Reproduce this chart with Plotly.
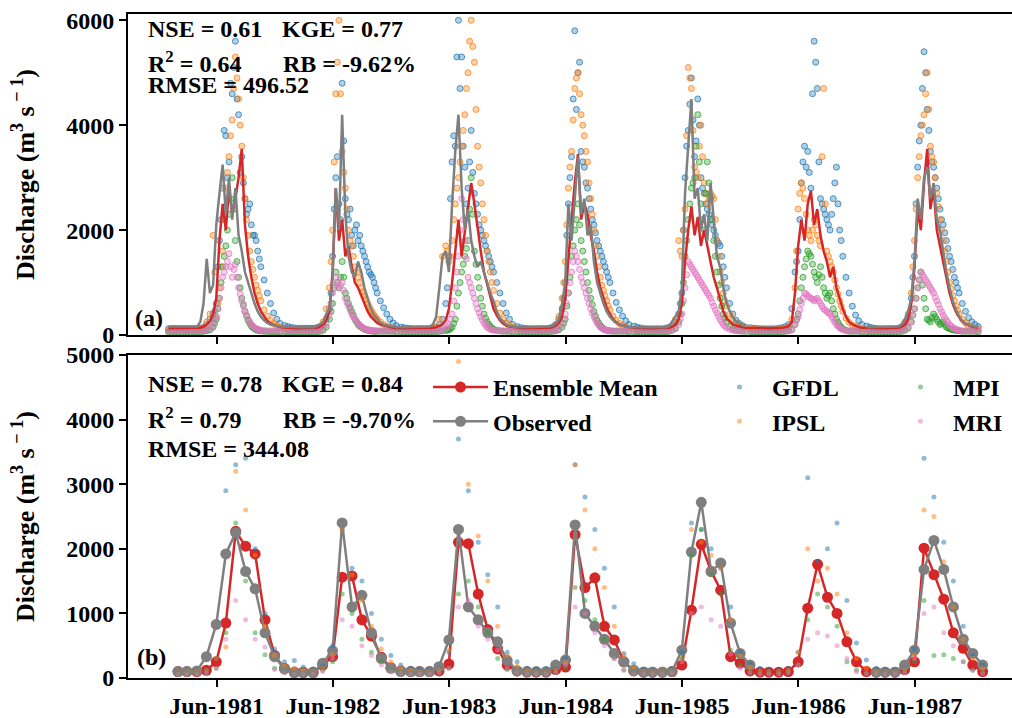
import pandas as pd
import plotly.graph_objects as go

years = [1981, 1982, 1983, 1984, 1985, 1986, 1987]
# daily panel sampled every 10 days (36 samples per year) + mid-step samples in the wet season
daily_dates = [pd.Timestamp(y, 1, 1) + pd.Timedelta(days=10 * k) for y in years for k in range(36)]
mid_dates = [pd.Timestamp(y, 1, 1) + pd.Timedelta(days=5 + 10 * k) for y in years for k in range(14, 29)]
monthly_dates = [pd.Timestamp(y, m, 1) + pd.offsets.MonthEnd(0) for y in years for m in range(1, 13)]

N = None
obs_daily = [
    160,160,155,155,150,150,150,150,155, 160,250,600,1450,800,950,2100,2700,3250, 2300,3000,2200,2800,1900,1600,1200,1000,800, 600,450,350,280,230,200,180,170,160,
    155,150,150,150,150,150,150,150,150, 150,170,200,250,400,500,1100,2800,2000, 4200,2300,1500,1200,1100,1400,1200,900,700, 500,380,300,240,200,180,170,160,150,
    150,150,150,150,150,150,150,150,150, 160,200,350,900,1500,1600,1200,2500,3500, 4200,2800,2000,2400,1800,1500,1300,1400,1200, 1000,800,650,450,320,250,200,170,160,
    150,150,150,150,150,150,150,150,150, 150,160,180,220,300,600,1000,2500,1800, 2600,3400,2300,2600,1900,2100,1400,1000,800, 600,450,350,280,230,200,180,160,150,
    150,150,150,150,150,150,150,150,150, 150,150,170,250,350,450,900,2700,3600, 4500,2600,2800,2000,2300,1800,2900,2200,1500, 1300,900,600,450,330,260,220,190,170,
    N,N,N,N,N,N,N,N,N, N,N,N,N,N,N,N,N,N, N,N,N,N,N,N,N,N,N, N,N,N,N,N,N,N,N,N,
    150,150,150,150,150,150,150,150,150, 150,160,200,300,450,700,1400,2600,2200, 3000,3200,2600,2900,2200,2000,1600,1200,900, 650,480,350,270,220,190,170,160,150,
]
ens_daily = [
    130,130,130,130,130,130,130,130,130, 130,140,160,200,260,400,700,1800,2500, 2000,2800,2300,2600,3000,3550,2100,1500,1100, 800,600,450,350,270,220,190,170,150,
    140,135,130,130,130,130,130,130,130, 130,140,160,200,280,450,1200,2800,1800, 2200,1500,1700,1300,1000,900,750,600,450, 350,280,230,200,180,160,150,140,130,
    130,130,130,130,130,130,130,130,130, 130,140,150,170,200,280,500,1000,1600, 2200,1500,2000,2400,2900,2500,2000,1600,1200, 950,700,500,380,280,220,180,160,150,
    140,135,130,130,130,130,130,130,130, 130,140,150,180,230,350,700,1500,2200, 2900,3450,2200,2500,2300,1900,1600,1200,900, 700,520,400,300,240,200,180,160,150,
    140,135,130,130,130,130,130,130,130, 130,130,140,160,200,300,600,1400,2000, 2450,1900,2250,1700,2000,1700,1400,1100,900, 650,450,320,250,200,180,160,150,140,
    135,130,130,130,130,130,130,130,130, 130,140,150,170,250,800,1700,2200,1800, 2500,2750,2100,2400,1900,1600,1400,1100,1300, 900,700,500,350,250,200,170,150,140,
    135,130,130,130,130,130,130,130,130, 130,140,160,200,300,600,1300,2400,2000, 2900,3550,2400,2800,2000,1700,1400,1100,800, 600,450,340,260,210,180,160,150,140,
]
gfdl_daily = [
    120,120,120,120,120,120,120,120,120, 120,130,150,200,300,400,600,1800,2800, 3800,3300,4600,5600,4200,3400,2600,2400,2100, 1900,1600,1300,1050,800,600,420,300,220,
    180,160,145,135,130,130,130,130,130, 130,140,160,200,300,500,1500,3000,2500, 4800,2600,2200,1900,2000,1800,1700,1500,1300, 1150,1000,800,650,520,400,300,230,180,
    150,140,130,125,120,120,120,120,120, 120,130,150,200,300,600,1500,3300,3600, 6000,5300,3200,2800,3900,2700,2300,2000,1800, 1600,1400,1200,1000,800,600,420,300,200,
    160,140,130,125,120,120,120,120,120, 120,130,150,200,300,500,1000,2500,3400, 5800,5000,3500,3200,2800,2400,2100,1800,1600, 1400,1200,1000,800,620,480,360,270,200,
    170,150,135,125,120,120,120,120,120, 120,130,150,180,250,400,800,3000,3900, 4900,3400,4500,3000,2700,2400,2200,2000,1800, 1700,1300,900,600,400,280,220,180,150,
    140,130,125,120,120,120,120,120,120, 130,140,160,200,500,1200,1600,2900,3600, 3500,2800,5600,4700,2600,2400,2200,2000,2600, 3200,2000,1500,1100,800,550,380,270,200,
    170,150,135,125,120,120,120,120,120, 120,130,160,220,350,700,1500,3200,4000, 5400,4300,3500,3200,2800,2400,2100,1800,1500, 1250,1000,800,600,450,330,250,200,160,
]
ipsl_daily = [
    100,100,100,100,100,100,100,100,100, 100,110,140,250,400,1900,350,900,1600, 2800,3400,4100,5300,4500,3600,2600,1900,1400, 1100,850,650,480,360,280,220,180,150,
    130,115,105,100,100,100,100,100,100, 110,120,150,250,500,900,2000,4600,6000, 3500,2800,2000,1700,1300,1100,900,750,600, 480,380,300,250,200,170,150,130,120,
    110,105,100,100,100,100,100,100,100, 100,110,150,300,1500,1700,1400,1800,2500, 3000,3600,4200,5000,6000,5200,3600,2900,2200, 1600,1200,850,600,420,300,230,180,150,
    130,115,105,100,100,100,100,100,100, 100,110,140,200,350,700,1400,2800,3500, 4700,5000,4200,3800,3300,2600,2000,1500,1100, 850,650,480,360,280,220,180,150,130,
    115,105,100,100,100,100,100,100,100, 100,110,130,180,300,1800,1500,2400,5100, 4700,3200,3000,4000,2900,2500,2700,2600,1800, 1200,800,550,400,300,230,190,160,140,
    120,110,100,100,100,100,100,100,100, 100,110,130,160,300,900,2400,2900,2600, 2000,1800,2200,1900,1700,4700,1600,1400,1200, 900,650,450,320,240,190,160,140,120,
    110,105,100,100,100,100,100,100,100, 100,110,150,250,400,800,1800,3000,3800, 4200,5000,3600,3300,2700,2200,1800,1400,1000, 750,550,400,300,230,180,150,130,120,
]
mpi_daily = [
    60,60,60,60,60,60,60,60,60, 60,60,70,80,100,150,300,700,1300, 1700,2300,3000,1800,1100,700,450,280,170, 120,90,80,70,65,60,60,60,60,
    60,60,60,60,60,60,60,60,60, 60,60,70,90,150,300,600,1200,900, 1400,800,600,450,300,200,150,110,90, 80,70,70,70,70,70,70,70,60,
    60,60,60,60,60,60,60,60,60, 60,60,60,70,80,90,100,150,300, 800,1200,1500,1800,3000,1600,1100,700,400, 250,160,110,90,80,70,70,70,60,
    60,60,60,60,60,60,60,60,60, 60,60,70,80,100,150,300,800,1500, 2000,2500,1800,1400,1000,700,450,280,180, 120,90,80,70,70,70,70,70,60,
    60,60,60,60,60,60,60,60,60, 60,60,70,90,130,250,600,1500,2200, 2800,3000,4200,2500,2000,3300,2600,1800,1200, 700,400,250,160,110,90,80,70,70,
    60,60,60,60,60,60,60,60,60, 60,60,70,80,100,200,400,900,1300, 1600,1500,1200,1000,1300,900,700,800,500, 300,180,120,90,70,70,70,70,60,
    60,60,60,60,60,60,60,60,60, 60,60,70,90,130,250,500,900,1200, 700,300,250,400,300,200,250,150,120, 100,90,80,70,70,70,70,70,60,
]
mri_daily = [
    80,80,80,80,80,80,80,80,80, 80,80,90,100,120,180,350,700,1100, 1300,1550,1100,1350,900,650,450,300,200, 140,110,90,85,80,80,80,80,80,
    80,80,80,80,80,80,80,80,80, 80,80,90,110,200,400,800,1100,900, 1000,700,550,400,300,220,160,120,100, 90,80,80,80,80,80,80,80,80,
    80,80,80,80,80,80,80,80,80, 80,80,80,90,100,120,200,400,900, 1500,2600,1800,1100,900,700,500,350,230, 150,110,90,80,80,80,80,80,80,
    80,80,80,80,80,80,80,80,80, 80,80,90,100,120,200,400,800,1200, 1600,1400,1100,900,700,500,350,230,150, 110,90,80,80,80,80,80,80,80,
    80,80,80,80,80,80,80,80,80, 80,80,90,100,120,200,400,900,1400, 1300,1200,1100,1000,900,800,700,550,420, 300,200,140,110,90,80,80,80,80,
    80,80,80,80,80,80,80,80,80, 80,80,80,90,100,200,350,600,800, 750,700,650,700,600,500,450,400,300, 200,140,100,80,80,80,80,80,80,
    80,80,80,80,80,80,80,80,80, 80,80,90,110,150,250,500,900,1200, 1100,1000,900,800,650,500,380,280,200, 140,110,90,80,80,80,80,80,80,
]

# mid-step wet-season model samples (15 per year)
gfdl_mid = [
    450,1300,2200,3900,3000,4800,5100,4500,3100,2900,2300,2500,1900,1800,1450,
    800,2400,3400,2200,3700,2300,2400,1700,2100,1900,1600,1400,1200,1100,900,
    900,2600,3800,5300,4700,3600,2500,3300,3100,2500,2100,1900,1700,1500,1300,
    700,1900,3000,4500,4300,5200,3300,2900,2600,2200,1950,1700,1500,1300,1100,
    600,2000,3600,4400,4100,3700,4000,2800,2500,2300,2100,1900,1750,1500,1100,
    1400,2200,3300,3200,3100,4600,5200,3300,2500,2300,2100,2300,2900,2500,1800,
    1100,2500,3700,4700,5000,3900,3300,3000,2600,2200,1950,1650,1400,1100,900,
]
ipsl_mid = [
    1200,600,1300,2200,3100,3800,4700,4900,4000,3000,2200,1600,1250,950,750,
    1400,3300,5200,4600,3100,2400,1800,1500,1200,1000,820,680,540,430,340,
    1600,1500,2200,2800,3300,3900,4700,5600,5500,4300,3200,2500,1900,1400,1000,
    1000,2100,3200,4100,4900,4600,4000,3500,2900,2300,1700,1300,950,750,560,
    1600,2000,3800,4900,3900,3100,3600,3400,2700,2600,2650,2200,1500,1000,650,
    1600,2700,2800,2300,1900,2000,2100,1800,3400,2500,1500,1300,1050,780,550,
    1300,2400,3400,4000,4600,4300,3400,3000,2450,2000,1600,1200,880,650,470,
]
mpi_mid = [
    220,500,1000,1500,2000,2600,2400,1400,900,580,360,220,140,100,85,
    450,900,1000,1100,1100,700,520,380,250,170,130,100,85,75,70,
    95,120,220,550,1000,1350,1650,2400,2300,1350,900,550,320,200,130,
    220,550,1100,1700,2200,2100,1600,1200,850,580,360,230,150,100,85,
    400,1000,1800,2500,2900,3600,3300,2200,2700,2900,2200,1500,950,550,320,
    300,650,1100,1450,1550,1350,1100,1150,1100,800,750,650,400,240,150,
    380,700,1050,950,500,280,330,350,250,220,200,135,110,95,85,
]
mri_mid = [
    260,500,900,1200,1400,1300,1250,1100,780,550,380,250,170,125,100,
    600,950,1000,950,850,620,480,350,260,190,140,110,95,85,80,
    160,300,650,1200,2000,2200,1450,1000,800,600,420,290,190,130,100,
    300,600,1000,1400,1500,1250,1000,800,600,420,290,190,130,100,85,
    300,650,1150,1350,1250,1150,1050,950,850,750,620,480,360,250,170,
    280,480,700,780,720,680,680,650,550,470,420,350,250,170,120,
    380,700,1050,1150,1050,950,850,720,580,440,330,240,170,125,100,
]

# monthly panel (Jan..Dec for each year)
obs_monthly = [
    100,100,110,330,830,1920,2250,1650,1380,700,330,140,
    80,80,80,230,420,2400,1100,1280,700,300,150,100,
    100,100,100,175,590,2300,1100,900,700,560,270,110,
    100,100,100,200,280,2370,1000,800,600,380,250,120,
    90,90,90,100,430,1950,2720,1650,1780,850,380,200,
    N,N,N,N,N,N,N,N,N,N,N,N,
    90,90,90,200,430,1680,2130,1680,1100,600,380,200,
]
ens_monthly = [
    100,100,100,120,250,850,2270,2040,1920,900,350,150,
    90,90,90,200,330,1560,1580,900,650,320,160,110,
    100,100,100,110,215,2100,2080,1300,750,450,200,110,
    90,90,90,130,170,2220,1400,1550,800,590,250,110,
    90,90,90,100,200,1050,2070,1650,1360,330,230,110,
    90,90,90,100,250,1080,1760,1250,1000,560,250,100,
    90,90,90,130,250,2010,1600,1220,700,460,200,100,
]
gfdl_monthly = [
    110,110,110,130,300,2900,3300,3400,2000,1000,450,250,
    270,170,140,180,500,2300,1700,1500,1000,600,350,200,
    150,130,120,150,400,3700,2900,2100,1600,1100,400,250,
    150,130,120,140,300,3300,2800,2300,1700,1100,380,220,
    140,120,110,130,400,2400,2300,2000,1700,1100,400,220,
    150,130,120,150,400,3100,1800,2000,2400,1200,540,280,
    150,130,120,140,450,3400,2800,2100,1500,800,350,200,
]
ipsl_monthly = [
    100,100,100,120,300,480,3200,2600,1900,800,350,200,
    150,120,110,150,360,2300,1600,1200,800,450,250,150,
    120,100,100,130,430,4900,3000,2200,1500,800,350,180,
    120,100,100,120,250,3300,2600,2000,1400,800,350,170,
    110,100,100,110,300,2300,2100,1900,1700,900,350,170,
    110,100,100,120,400,2000,1500,1700,1300,700,300,150,
    110,100,100,130,350,2600,2500,1800,1100,600,300,150,
]
mpi_monthly = [
    70,70,70,80,150,700,2400,1500,700,360,150,90,
    70,70,70,120,250,1300,1000,600,400,250,120,80,
    70,70,70,80,150,1300,1500,1100,700,300,130,80,
    70,70,70,80,150,1400,1200,900,600,300,120,80,
    70,70,70,90,300,1900,2300,1600,1300,430,200,90,
    70,70,70,80,200,900,1300,1100,800,250,120,70,
    70,70,70,90,250,1200,350,360,300,250,120,80,
]
mri_monthly = [
    60,60,60,80,150,600,1200,900,600,480,130,80,
    60,60,60,100,300,900,800,500,350,200,100,70,
    60,60,60,80,150,1100,1200,800,600,430,150,80,
    60,60,60,80,200,1100,1000,700,500,300,130,70,
    60,60,60,80,250,1000,1100,900,800,370,150,80,
    60,60,60,80,200,600,700,650,500,300,100,70,
    60,60,60,80,300,1000,1100,700,500,250,120,70,
]

tick_dates = [pd.Timestamp(y, 6, 1) for y in years]
tick_labels = ["Jun-%d" % y for y in years]

stats_a = ["NSE = 0.61", "KGE = 0.77", "R<sup>2</sup> = 0.64", "RB = -9.62%", "RMSE = 496.52"]
stats_b = ["NSE = 0.78", "KGE = 0.84", "R<sup>2</sup> = 0.79", "RB = -9.70%", "RMSE = 344.08"]

FONT = "Liberation Serif"
C_GFDL, C_IPSL, C_MPI, C_MRI = "31,119,180", "255,127,14", "44,160,44", "227,119,194"
RED, GRAY = "#d62728", "#7f7f7f"

fig = go.Figure()

# ---- top panel: daily ----
for vals, mids, c in [(gfdl_daily, gfdl_mid, C_GFDL), (ipsl_daily, ipsl_mid, C_IPSL),
                      (mpi_daily, mpi_mid, C_MPI), (mri_daily, mri_mid, C_MRI)]:
    fig.add_trace(go.Scatter(x=daily_dates + mid_dates, y=vals + mids, mode="markers", xaxis="x", yaxis="y",
                             showlegend=False,
                             marker=dict(size=6, color="rgba(%s,0.35)" % c,
                                         line=dict(width=1, color="rgba(%s,0.75)" % c))))
fig.add_trace(go.Scatter(x=daily_dates, y=ens_daily, mode="lines", xaxis="x", yaxis="y", showlegend=False,
                         line=dict(color=RED, width=2.5)))
fig.add_trace(go.Scatter(x=daily_dates, y=obs_daily, mode="lines", xaxis="x", yaxis="y", showlegend=False,
                         line=dict(color=GRAY, width=2.5)))

# ---- bottom panel: monthly ----
fig.add_trace(go.Scatter(x=monthly_dates, y=ens_monthly, mode="lines+markers", name="Ensemble Mean",
                         xaxis="x2", yaxis="y2", legend="legend",
                         line=dict(color=RED, width=2.5), marker=dict(size=11, color=RED)))
fig.add_trace(go.Scatter(x=monthly_dates, y=obs_monthly, mode="lines+markers", name="Observed",
                         xaxis="x2", yaxis="y2", legend="legend",
                         line=dict(color=GRAY, width=2.5), marker=dict(size=11, color=GRAY)))
for vals, c, nm, lg in [(gfdl_monthly, C_GFDL, "GFDL", "legend2"), (ipsl_monthly, C_IPSL, "IPSL", "legend2"),
                        (mpi_monthly, C_MPI, "MPI", "legend3"), (mri_monthly, C_MRI, "MRI", "legend3")]:
    fig.add_trace(go.Scatter(x=monthly_dates, y=vals, mode="markers", name=nm, xaxis="x2", yaxis="y2",
                             legend=lg, marker=dict(size=5, color="rgba(%s,0.5)" % c)))

tickfont = dict(family=FONT, size=24, color="black", weight="bold")
xrange = ["1980-08-27", "1988-04-01"]
common_x = dict(range=xrange, type="date", tickvals=tick_dates, ticktext=tick_labels, ticks="outside",
                ticklen=7, tickwidth=2, tickcolor="black", showline=True, linewidth=2, linecolor="black",
                mirror=True, showgrid=False, zeroline=False, tickfont=tickfont, automargin=False)
common_y = dict(ticks="outside", ticklen=7, tickwidth=2, tickcolor="black", showline=True, linewidth=2,
                linecolor="black", showgrid=False, zeroline=False, tickfont=tickfont, automargin=False,
                title=dict(text="Discharge (m<sup>3</sup> s<sup> \u2212 1</sup>)",
                           font=dict(family=FONT, size=26, color="black", weight="bold"), standoff=24))

def px(xp):
    return (xp - 128) / 884.0

def py(yp):
    return (718 - yp) / 718.0

annfont = dict(family=FONT, size=24, color="black", weight="bold")
annotations = []
for s, rows in [(stats_a, (44, 79, 100)), (stats_b, (399, 435, 464))]:
    annotations += [
        dict(text=s[0], x=px(146), y=py(rows[0])),
        dict(text=s[1], x=px(280), y=py(rows[0])),
        dict(text=s[2], x=px(146), y=py(rows[1])),
        dict(text=s[3], x=px(281), y=py(rows[1])),
        dict(text=s[4], x=px(146), y=py(rows[2])),
    ]
for a in annotations:
    a.update(yanchor="bottom")
annotations += [dict(text="(a)", x=px(133), y=py(318), yanchor="middle"),
                dict(text="(b)", x=px(135), y=py(657), yanchor="middle")]
for a in annotations:
    a.update(xref="paper", yref="paper", xanchor="left", showarrow=False, font=annfont)

legfont = dict(family=FONT, size=24, color="black", weight="bold")
leg_common = dict(font=legfont, bgcolor="rgba(0,0,0,0)", yanchor="top", xanchor="left",
                  tracegroupgap=0, itemsizing="trace", itemwidth=55, y=py(365))

fig.update_layout(
    width=1012, height=718,
    margin=dict(l=128, r=0, t=0, b=0),
    plot_bgcolor="white", paper_bgcolor="white",
    xaxis=dict(common_x, anchor="y", domain=[0, 1], showticklabels=False),
    yaxis=dict(common_y, anchor="x", domain=[py(335), py(14)], range=[0, 6120],
               tickvals=[0, 2000, 4000, 6000]),
    xaxis2=dict(common_x, anchor="y2", domain=[0, 1], showticklabels=True, ticklabelstandoff=-2),
    yaxis2=dict(common_y, anchor="x2", domain=[py(678), py(355)], range=[0, 5000],
                tickvals=[0, 1000, 2000, 3000, 4000, 5000]),
    annotations=annotations,
    legend=dict(leg_common, x=px(428)),
    legend2=dict(leg_common, x=px(707)),
    legend3=dict(leg_common, x=px(888)),
    showlegend=True,
)

fig.write_html("out.html")
